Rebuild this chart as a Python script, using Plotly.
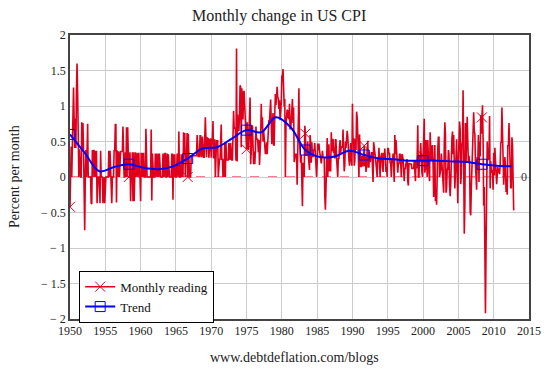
import plotly.graph_objects as go

# Monthly % change in US CPI (NSA), Jan 1950 onwards, one list per decade
cpi_1950s = [
    -0.42, 0, 0.43, 0, 0.42, 0.42, 1.26, 0.83, 0.41, 0.82, 0.41, 1.21,
    1.60, 1.18, 0.39, 0, 0.39, 0, 0, 0, 0.77, 0.38, 0.76, 0.38,
    0, -0.75, 0, 0.38, 0, 0.38, 0.75, 0, 0, 0, 0, 0,
    -0.37, -0.38, 0.38, 0, 0.38, 0.37, 0, 0.37, 0, 0.37, -0.37, 0,
    0, 0, 0, -0.37, 0.37, 0, 0, 0, -0.37, 0, 0, -0.37,
    0, 0, 0, 0, 0, 0, 0.37, 0, 0.37, 0, 0, -0.37,
    0, 0, 0, 0.37, 0.37, 0.74, 0.74, -0.36, 0.37, 0.36, 0, 0.36,
    0, 0.36, 0.36, 0.36, 0.36, 0.36, 0.71, 0, 0, 0, 0.35, 0,
    0.70, 0, 0.70, 0.35, 0, 0, 0.35, -0.34, 0, 0, 0.35, -0.34,
    0.35, -0.34, 0, 0.35, 0, 0.34, 0.34, 0, 0.34, 0.34, 0, 0,
]
cpi_1960s = [
    -0.34, 0.34, 0, 0.34, 0, 0.34, 0, 0, 0, 0.68, 0, 0,
    0, 0, 0, 0, 0, 0, 0.67, -0.33, 0.33, 0, 0, 0,
    0, 0.33, 0, 0.33, 0, 0, 0.33, 0, 0.33, 0, 0, 0,
    0, 0, 0.33, 0, 0, 0.33, 0.33, 0, 0, 0.33, 0, 0.32,
    0, 0, 0, 0, 0, 0.32, 0.32, -0.32, 0.32, 0, 0.32, 0,
    0, 0, 0.32, 0.32, 0, 0.64, 0, 0, 0, 0.32, 0, 0.32,
    0, 0.63, 0.31, 0.62, 0, 0.31, 0.31, 0.62, 0, 0.61, 0, 0,
    0, 0, 0.30, 0.30, 0.30, 0.30, 0.30, 0.30, 0.30, 0.30, 0.30, 0.30,
    0.59, 0.29, 0.29, 0.29, 0.29, 0.58, 0.58, 0.29, 0.29, 0.57, 0.28, 0.28,
    0.28, 0.56, 0.84, 0.55, 0.28, 0.55, 0.55, 0.54, 0.27, 0.54, 0.54, 0.53,
]
cpi_1970s = [
    0.27, 0.53, 0.53, 0.79, 0.26, 0.52, 0.52, 0, 0.51, 0.51, 0.51, 0.51,
    0, 0.25, 0.25, 0.25, 0.50, 0.74, 0.25, 0.25, 0, 0.25, 0, 0.49,
    0, 0.49, 0.24, 0.24, 0.24, 0.24, 0.48, 0.24, 0.24, 0.48, 0.24, 0.24,
    0.24, 0.70, 0.93, 0.69, 0.69, 0.68, 0.23, 1.81, 0.22, 0.88, 0.66, 0.65,
    0.87, 1.29, 1.27, 0.42, 1.25, 0.82, 0.82, 1.21, 1.20, 0.99, 0.78, 0.78,
    0.39, 0.77, 0.38, 0.38, 0.57, 0.75, 1.12, 0.18, 0.55, 0.55, 0.73, 0.36,
    0.18, 0.36, 0.18, 0.36, 0.71, 0.53, 0.53, 0.53, 0.35, 0.52, 0.17, 0.34,
    0.52, 1.03, 0.68, 0.84, 0.50, 0.66, 0.49, 0.33, 0.33, 0.33, 0.49, 0.32,
    0.64, 0.64, 0.79, 0.79, 0.94, 1.09, 0.77, 0.46, 0.76, 0.90, 0.45, 0.45,
    0.89, 1.17, 1.01, 1.15, 1.27, 1.12, 1.11, 0.96, 1.08, 0.80, 0.93, 1.05,
]
cpi_1980s = [
    1.43, 1.41, 1.52, 1.12, 0.99, 1.10, 0, 0.73, 0.84, 0.95, 0.83, 0.94,
    0.81, 1.03, 0.68, 0.68, 0.79, 0.89, 1.10, 0.76, 0.98, 0.21, 0.32, 0.32,
    0.32, 0.32, -0.11, 0.42, 0.95, 1.25, 0.52, 0.21, 0.20, 0.31, -0.20, -0.41,
    0.20, 0.10, 0, 0.72, 0.61, 0.30, 0.40, 0.30, 0.50, 0.30, 0.20, 0.10,
    0.59, 0.49, 0.20, 0.49, 0.29, 0.29, 0.39, 0.38, 0.48, 0.29, 0, 0,
    0.19, 0.47, 0.38, 0.47, 0.37, 0.28, 0.19, 0.19, 0.28, 0.37, 0.28, 0.28,
    0.27, -0.27, -0.46, -0.18, 0.28, 0.55, 0, 0.18, 0.46, 0.09, 0.09, 0.09,
    0.63, 0.36, 0.45, 0.54, 0.35, 0.35, 0.26, 0.53, 0.52, 0.26, 0.09, 0,
    0.26, 0.26, 0.43, 0.52, 0.34, 0.43, 0.42, 0.42, 0.67, 0.33, 0.08, 0.17,
    0.50, 0.41, 0.58, 0.65, 0.57, 0.24, 0.24, 0.16, 0.32, 0.48, 0.24, 0.16,
]
cpi_1990s = [
    1.03, 0.47, 0.55, 0.16, 0.23, 0.54, 0.38, 0.92, 0.84, 0.60, 0.22, 0,
    0.60, 0.15, 0.15, 0.15, 0.30, 0.29, 0.15, 0.29, 0.44, 0.15, 0.29, 0.07,
    0.15, 0.36, 0.51, 0.14, 0.14, 0.36, 0.21, 0.28, 0.28, 0.35, 0.14, -0.07,
    0.49, 0.35, 0.35, 0.28, 0.14, 0.14, 0, 0.28, 0.21, 0.41, 0.07, 0,
    0.27, 0.34, 0.34, 0.14, 0.07, 0.34, 0.27, 0.40, 0.27, 0.07, 0.13, 0,
    0.40, 0.40, 0.33, 0.33, 0.20, 0.20, 0, 0.26, 0.20, 0.33, -0.07, -0.07,
    0.59, 0.32, 0.52, 0.39, 0.19, 0.06, 0.19, 0.19, 0.32, 0.32, 0.19, 0,
    0.32, 0.31, 0.25, 0.12, -0.06, 0.12, 0.12, 0.19, 0.25, 0.25, -0.06, -0.12,
    0.19, 0.19, 0.19, 0.18, 0.18, 0.12, 0.12, 0.12, 0.12, 0.24, 0, -0.06,
    0.24, 0.12, 0.30, 0.73, 0, 0, 0.30, 0.24, 0.48, 0.18, 0.06, 0,
]
cpi_2000s = [
    0.30, 0.59, 0.82, 0.06, 0.12, 0.52, 0.23, 0, 0.52, 0.17, 0.06, -0.06,
    0.63, 0.40, 0.23, 0.40, 0.45, 0.17, -0.28, 0, 0.45, -0.34, -0.17, -0.39,
    0.23, 0.40, 0.56, 0.56, 0, 0.06, 0.11, 0.33, 0.17, 0.17, 0, -0.22,
    0.44, 0.77, 0.60, -0.22, -0.16, 0.11, 0.11, 0.38, 0.33, -0.11, -0.27, -0.11,
    0.49, 0.54, 0.64, 0.32, 0.59, 0.32, -0.16, 0.05, 0.21, 0.53, 0.05, -0.37,
    0.21, 0.58, 0.78, 0.67, -0.10, 0.05, 0.46, 0.51, 1.22, 0.20, -0.80, -0.40,
    0.76, 0.20, 0.55, 0.85, 0.50, 0.20, 0.30, 0.20, -0.49, -0.54, -0.15, 0.15,
    0.31, 0.54, 0.91, 0.65, 0.61, 0.19, -0.03, -0.18, 0.28, 0.21, 0.59, -0.07,
    0.50, 0.29, 0.87, 0.61, 0.84, 1.01, 0.53, -0.40, -0.14, -1.01, -1.92, -1.03,
    0.44, 0.50, 0.24, 0.25, 0.29, 0.86, -0.16, 0.22, 0.06, 0.10, 0.07, -0.18,
]
cpi_2010s = [
    0.34, 0.02, 0.41, 0.17, 0.08, -0.10, 0.02, 0.14, 0.06, 0.12, 0.04, 0.17,
    0.48, 0.49, 0.98, 0.64, 0.47, -0.11, 0.09, 0.28, 0.15, -0.21, -0.08, -0.25,
    0.44, 0.44, 0.76, 0.30, -0.12, -0.15, -0.16, 0.56, 0.45, -0.04, -0.47,
]

# Trend, sampled every 25 months from Jan 1950
trend_values = [
    0.60, 0.34, 0.08, 0.14, 0.18, 0.13, 0.11, 0.15, 0.26, 0.40,
    0.42, 0.54, 0.66, 0.63, 0.84, 0.70, 0.38, 0.28, 0.29, 0.37,
    0.31, 0.26, 0.25, 0.23, 0.23, 0.23, 0.22, 0.21, 0.18, 0.16, 0.15,
]
trend_step_months = 25
marker_every_months = 100
start_year = 1950

x_tick_years = list(range(1950, 2016, 5))
y_tick_vals = [-2, -1.5, -1, -0.5, 0, 0.5, 1, 1.5, 2]
y_tick_text = ["− 2", "− 1.5", "− 1", "− 0.5", "0", "0.5", "1", "1.5", "2"]

monthly = cpi_1950s + cpi_1960s + cpi_1970s + cpi_1980s + cpi_1990s + cpi_2000s + cpi_2010s
mx = [start_year + i / 12 for i in range(len(monthly))]
tx = [start_year + i * trend_step_months / 12 for i in range(len(trend_values))]

RED = "rgb(222,0,28)"
BLUE = "rgb(0,0,255)"
FONT = "Liberation Serif, Times New Roman, serif"

fig = go.Figure()
fig.add_trace(go.Scatter(x=mx, y=monthly, mode="lines", line=dict(color=RED, width=1.6),
                         showlegend=False, hoverinfo="skip"))
mk_idx = list(range(0, len(monthly), marker_every_months))
fig.add_trace(go.Scatter(x=[mx[i] for i in mk_idx], y=[monthly[i] for i in mk_idx], mode="markers",
                         marker=dict(symbol="x-thin", size=10, line=dict(color=RED, width=1)),
                         showlegend=False))
fig.add_trace(go.Scatter(x=tx, y=trend_values, mode="lines", line=dict(color=BLUE, width=2, shape="spline"),
                         showlegend=False))
step = marker_every_months // trend_step_months
fig.add_trace(go.Scatter(x=tx[::step], y=trend_values[::step], mode="markers",
                         marker=dict(symbol="square-open", size=10, color=BLUE, line=dict(width=1)),
                         showlegend=False))
# legend entries
fig.add_trace(go.Scatter(x=[None], y=[None], mode="lines+markers", name="Monthly reading",
                         line=dict(color=RED, width=1.5),
                         marker=dict(symbol="x-thin", size=10, line=dict(color=RED, width=1))))
fig.add_trace(go.Scatter(x=[None], y=[None], mode="lines+markers", name="Trend",
                         line=dict(color=BLUE, width=2),
                         marker=dict(symbol="square-open", size=10, color=BLUE, line=dict(width=1))))

fig.add_shape(type="line", x0=1950, x1=2013.8, y0=0, y1=0, xref="x", yref="y",
              line=dict(color=RED, width=1, dash="dash"), layer="below")
fig.add_annotation(x=2014.35, y=0, xref="x", yref="y", text="0", showarrow=False,
                   font=dict(family=FONT, size=12, color="#333"))

# page body adds an 8px offset; margins compensate so the plot lands where the reference has it
fig.update_layout(
    width=550, height=370,
    margin=dict(l=62, r=29, t=27, b=59),
    paper_bgcolor="white", plot_bgcolor="white",
    title=dict(text="Monthly change in US CPI", x=0.493, xanchor="center", y=0.981, yanchor="middle",
               font=dict(family=FONT, size=16, color="#222")),
    font=dict(family=FONT, size=12, color="#222"),
    legend=dict(x=0.02, y=0.17, xanchor="left", yanchor="top", bgcolor="white",
                bordercolor="black", borderwidth=1, font=dict(family=FONT, size=13, color="#111"),
                itemwidth=30, tracegroupgap=0),
    xaxis=dict(range=[1950, 2015], tickvals=x_tick_years, showgrid=True, gridcolor="#cccccc",
               gridwidth=1, zeroline=False, showline=True, linecolor="#444", linewidth=1.5,
               mirror=True, ticks="", tickfont=dict(family=FONT, size=12, color="#222")),
    yaxis=dict(range=[-2, 2], tickvals=y_tick_vals, ticktext=y_tick_text, showgrid=True,
               gridcolor="#cccccc", gridwidth=1, zeroline=False, showline=True, linecolor="#444",
               linewidth=1.5, mirror=True, ticks="", tickfont=dict(family=FONT, size=12, color="#222")),
    showlegend=True,
)
fig.add_annotation(x=-0.122, y=0.5, xref="paper", yref="paper", text="Percent per month",
                   textangle=-90, showarrow=False, xanchor="center", yanchor="middle",
                   font=dict(family=FONT, size=14, color="#222"))
fig.add_annotation(x=0.49, y=-0.137, xref="paper", yref="paper", text="www.debtdeflation.com/blogs",
                   showarrow=False, xanchor="center", yanchor="middle",
                   font=dict(family=FONT, size=14, color="#222"))

fig.write_html("out.html")
